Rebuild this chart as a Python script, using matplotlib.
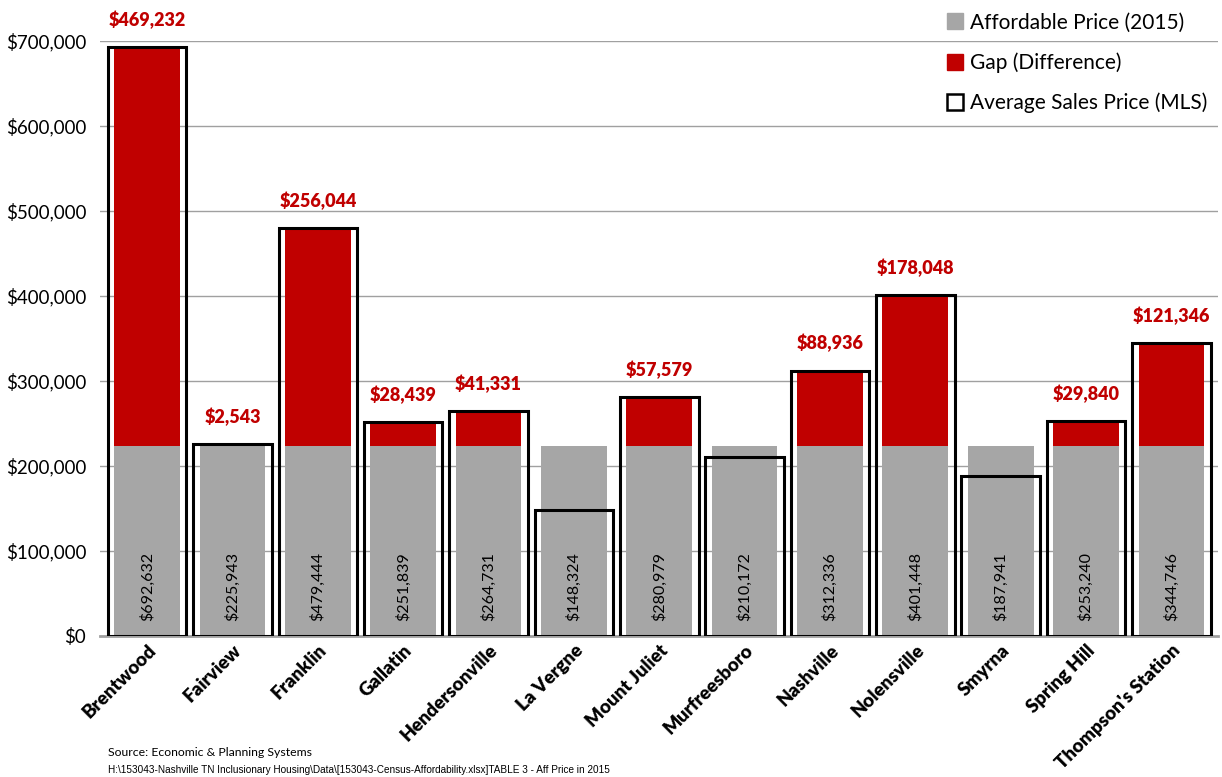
import matplotlib
matplotlib.use("Agg")
import matplotlib.pyplot as plt
from matplotlib.lines import Line2D
from matplotlib.ticker import FuncFormatter

cities = ["Brentwood", "Fairview", "Franklin", "Gallatin", "Hendersonville",
          "La Vergne", "Mount Juliet", "Murfreesboro", "Nashville", "Nolensville",
          "Smyrna", "Spring Hill", "Thompson's Station"]
affordable = [223400] * 13
gap = [469232, 2543, 256044, 28439, 41331, 0, 57579, 0, 88936, 178048, 0, 29840, 121346]
sales_price = [692632, 225943, 479444, 251839, 264731, 148324, 280979, 210172,
               312336, 401448, 187941, 253240, 344746]

GREY = "#a6a6a6"
RED = "#c00000"
FONT = ["Lato", "DejaVu Sans"]
plt.rcParams["font.family"] = FONT

fig = plt.figure(figsize=(12.22, 7.77), dpi=100)
ax = fig.add_axes([0.082, 0.1815, 0.915, 0.7657])

x = list(range(len(cities)))
ax.bar(x, affordable, width=0.77, color=GREY, zorder=2)
ax.bar(x, gap, width=0.77, bottom=affordable, color=RED, zorder=2)
ax.bar(x, sales_price, width=0.92, facecolor="none", edgecolor="black",
       linewidth=2.2, zorder=3)

for xi, price, g in zip(x, sales_price, gap):
    ax.text(xi, 18000, f"${price:,.0f}", rotation=90, ha="center", va="bottom",
            fontsize=11.5, color="black", zorder=4)
    if g > 0:
        ax.annotate(f"${g:,.0f}", xy=(xi, price), xytext=(0, 13),
                    textcoords="offset points", ha="center", va="bottom",
                    fontsize=13, fontweight="heavy", color=RED,
                    annotation_clip=False)

ax.set_xlim(-0.55, len(cities) - 0.45)
ax.set_ylim(0, 700000)
ax.set_yticks(range(0, 700001, 100000))
ax.yaxis.set_major_formatter(FuncFormatter(lambda v, p: f"${v:,.0f}"))
ax.grid(axis="y", color="#a0a0a0", linewidth=1.0, zorder=0)
ax.set_axisbelow(True)
for s in ["left", "right", "top"]:
    ax.spines[s].set_visible(False)
ax.spines["bottom"].set_color("#a0a0a0")
ax.spines["bottom"].set_linewidth(2)
ax.tick_params(axis="y", length=0, labelsize=13.5, pad=10)
ax.tick_params(axis="x", length=0, pad=4)
ax.set_xticks(x)
ax.set_xticklabels(cities, rotation=45, ha="right", rotation_mode="anchor",
                   fontsize=13.5, fontweight="heavy")

handles = [
    Line2D([], [], marker="s", linestyle="none", markersize=11,
           markerfacecolor=GREY, markeredgecolor=GREY),
    Line2D([], [], marker="s", linestyle="none", markersize=11,
           markerfacecolor=RED, markeredgecolor=RED),
    Line2D([], [], marker="s", linestyle="none", markersize=11,
           markerfacecolor="white", markeredgecolor="black", markeredgewidth=1.8),
]
fig.legend(handles, ["Affordable Price (2015)", "Gap (Difference)",
                     "Average Sales Price (MLS)"],
           loc="upper right", bbox_to_anchor=(1.003, 1.008), frameon=False,
           fontsize=15, handlelength=0.8, handletextpad=0.3, labelspacing=0.95)

fig.text(0.088, 1 - 752 / 777, "Source: Economic & Planning Systems",
         fontsize=8.8, va="center", ha="left")
fig.text(0.088, 1 - 770 / 777,
         "H:\\153043-Nashville TN Inclusionary Housing\\Data\\[153043-Census-Affordability.xlsx]TABLE 3 - Aff Price in 2015",
         fontsize=7.2, va="center", ha="left", family=["Liberation Sans Narrow", "Liberation Sans", "DejaVu Sans"])

fig.savefig("out.png", dpi=100)
